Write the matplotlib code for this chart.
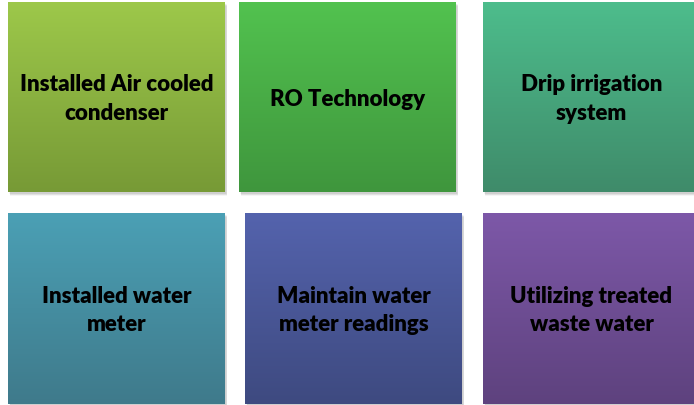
import numpy as np
import matplotlib
matplotlib.use("Agg")
import matplotlib.pyplot as plt
from matplotlib.colors import LinearSegmentedColormap
from matplotlib.patches import Rectangle

# box labels and gradient colours (top -> bottom)
labels = ["Installed Air cooled\ncondenser", "RO Technology", "Drip irrigation\nsystem",
          "Installed water\nmeter", "Maintain water\nmeter readings", "Utilizing treated\nwaste water"]
top_colors = ["#9dc84a", "#52c24f", "#4dbd8c", "#4ba0b5", "#5463ad", "#7d58a8"]
bottom_colors = ["#779a36", "#3f963d", "#3f8b6a", "#3f7a8b", "#3e4a80", "#5e427e"]

# box extents in pixels: (left, top, right, bottom)
boxes = [(8, 3, 225, 193), (239, 3, 456, 193), (483, 3, 700, 193),
         (8, 214, 225, 405), (245, 214, 462, 405), (483, 214, 700, 405)]

fig = plt.figure(figsize=(6.94, 4.06), dpi=100)
ax = fig.add_axes([0, 0, 1, 1])
ax.set_xlim(0, 694)
ax.set_ylim(406, 0)
ax.axis("off")

grad = np.linspace(0, 1, 256).reshape(-1, 1)

for lab, c1, c2, (x0, y0, x1, y1) in zip(labels, top_colors, bottom_colors, boxes):
    # soft shadow
    for k in range(1, 6):
        ax.add_patch(Rectangle((x0 + 1 + k * 0.3, y0 + 1 + k * 0.5), x1 - x0, y1 - y0,
                               facecolor="black", edgecolor="none", alpha=0.04, zorder=1))
    cmap = LinearSegmentedColormap.from_list("g", [c1, c2])
    ax.imshow(grad, cmap=cmap, extent=(x0, x1, y1, y0), aspect="auto", zorder=2)
    ax.text((x0 + x1) / 2, (y0 + y1) / 2 + 1, lab, ha="center", va="center",
            fontsize=16, fontweight="heavy", family="Lato", linespacing=1.45,
            color="black", zorder=3)

ax.set_xlim(0, 694)
ax.set_ylim(406, 0)
fig.savefig("out.png", dpi=100)
